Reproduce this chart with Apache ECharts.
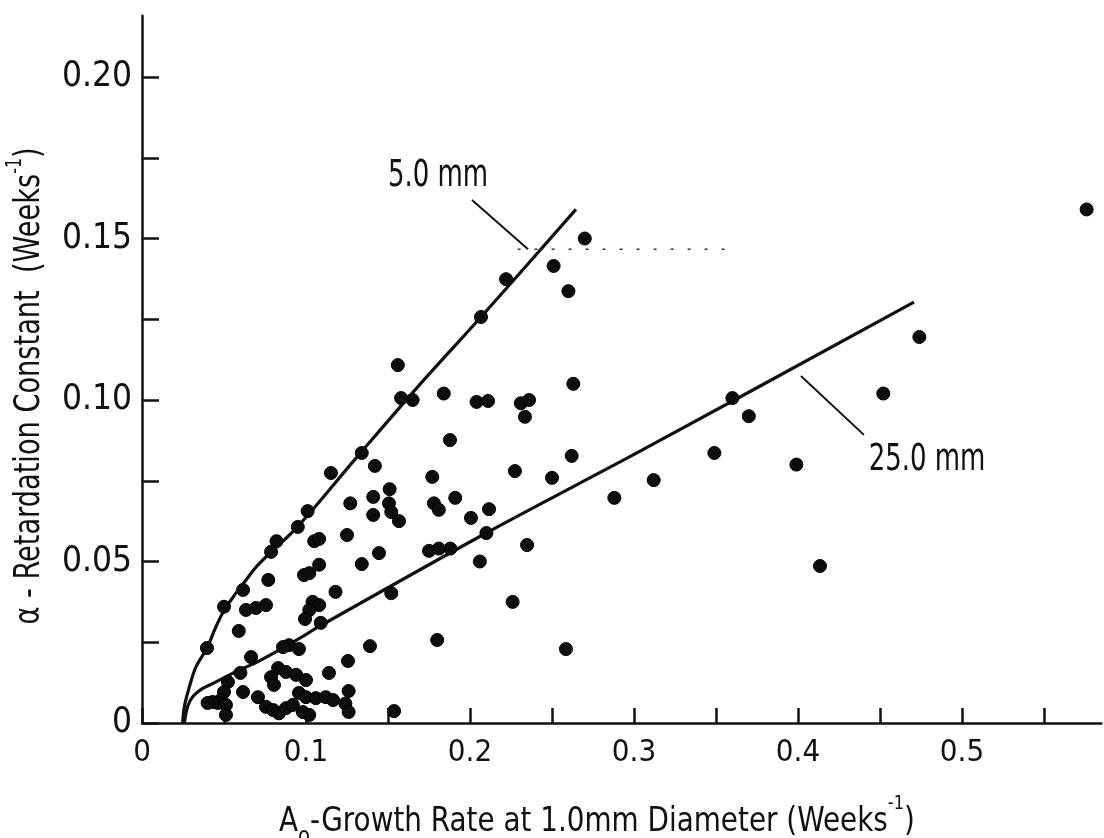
<!DOCTYPE html>
<html><head><meta charset="utf-8">
<script src="https://cdn.jsdelivr.net/npm/echarts@6/dist/echarts.min.js"></script>
<style>html,body{margin:0;padding:0;background:#fff}#c{width:1104px;height:838px}</style>
</head><body><div id="c"></div>
<script>
// A0 growth rate (x) and alpha retardation constant (y) for each tumour
const tumours = [
 [0.576,0.159],[0.474,0.1195],[0.360,0.1006],[0.370,0.095],[0.452,0.102],[0.349,0.0836],[0.399,0.080],[0.312,0.0752],[0.4134,0.0486],
 [0.270,0.150],[0.251,0.1415],[0.260,0.1337],[0.222,0.1374],[0.2067,0.1257],[0.156,0.1108],[0.263,0.105],[0.158,0.1006],[0.165,0.100],
 [0.184,0.102],[0.204,0.0994],[0.211,0.0997],[0.231,0.099],[0.236,0.100],[0.2335,0.0948],[0.134,0.0836],[0.1878,0.0876],[0.142,0.0796],
 [0.177,0.0762],[0.2274,0.078],[0.250,0.0759],[0.262,0.0827],[0.288,0.0697],[0.127,0.068],[0.141,0.070],[0.141,0.0644],[0.151,0.0724],
 [0.1506,0.068],[0.152,0.0653],[0.1567,0.0625],[0.178,0.068],[0.181,0.066],[0.191,0.0697],[0.2006,0.0635],[0.2116,0.0662],[0.210,0.0588],
 [0.125,0.0582],[0.1445,0.0526],[0.134,0.0492],[0.175,0.0533],[0.181,0.054],[0.188,0.054],[0.206,0.050],[0.2348,0.0551],[0.152,0.0402],
 [0.226,0.0375],[0.180,0.0257],[0.139,0.0238],[0.2585,0.0229],[0.1256,0.0192],[0.126,0.0099],[0.124,0.006],[0.126,0.0034],[0.1537,0.0037],
 [0.118,0.0406],[0.1152,0.0774],[0.101,0.0656],[0.095,0.0607],[0.105,0.0563],[0.108,0.057],[0.082,0.0563],[0.0787,0.053],[0.108,0.049],
 [0.077,0.0443],[0.0988,0.0458],[0.102,0.0464],[0.104,0.0375],[0.108,0.0365],[0.102,0.035],[0.0994,0.0322],[0.109,0.031],[0.0616,0.0412],
 [0.050,0.036],[0.0634,0.035],[0.0695,0.0356],[0.0756,0.0365],[0.059,0.0285],[0.0396,0.0232],[0.0665,0.0204],[0.0896,0.0241],[0.0957,0.0229],
 [0.086,0.0235],[0.060,0.0155],[0.114,0.0155],[0.083,0.017],[0.0878,0.0158],[0.094,0.0149],[0.100,0.0133],[0.0787,0.0142],[0.0805,0.0118],
 [0.0524,0.0127],[0.0616,0.0096],[0.050,0.0096],[0.048,0.0071],[0.0463,0.0062],[0.043,0.0065],[0.040,0.0062],[0.0512,0.0056],[0.0512,0.0025],
 [0.0707,0.008],[0.0756,0.005],[0.080,0.004],[0.0835,0.003],[0.0878,0.0046],[0.0957,0.0093],[0.100,0.008],[0.106,0.0077],[0.112,0.008],
 [0.1165,0.0071],[0.092,0.0056],[0.098,0.0034],[0.102,0.0025]
];
// 5.0 mm and 25.0 mm curves
const curve5mm = [[0.0248,0],[0.0258,0.005],[0.0289,0.0112],[0.0329,0.0174],[0.0396,0.0232],[0.0451,0.0298],[0.0502,0.035],[0.0573,0.0402],[0.0634,0.0443],[0.0716,0.0494],[0.0949,0.0608],[0.1305,0.082],[0.168,0.104],[0.2067,0.1257],[0.2646,0.159]];
const curve25mm = [[0.0258,0],[0.0278,0.005],[0.0309,0.0081],[0.037,0.0107],[0.043,0.0122],[0.0573,0.0159],[0.0695,0.0187],[0.0837,0.0226],[0.096,0.0262],[0.1091,0.0302],[0.2102,0.0589],[0.3043,0.0843],[0.4707,0.1303]];
// annotation leaders and labels
const leader5mm = [[0.2012,0.1619],[0.2354,0.1467]];
const leader25mm = [[0.4018,0.1074],[0.4402,0.0892]];
const dottedGuide = [[0.229,0.1467],[0.36,0.1467]];
const curveLabels = [{name:'5.0 mm', value:[0.1805,0.1693]},{name:'25.0 mm', value:[0.4787,0.0814]}];
// ticks & labels
const xTicks = [0,0.05,0.1,0.15,0.2,0.25,0.3,0.35,0.4,0.45,0.5,0.55];
const xLabels = [0,0.1,0.2,0.3,0.4,0.5];
const yTicks = [0,0.025,0.05,0.075,0.1,0.125,0.15,0.175,0.2];
const yLabels = [0,0.05,0.1,0.15,0.2];
const xTitle = 'Growth Rate at 1.0mm Diameter (Weeks';
const yTitle = 'α - Retardation Constant  (Weeks';

const FONT = "'Liberation Sans Narrow','DejaVu Sans Condensed','Liberation Sans',sans-serif";
const chart = echarts.init(document.getElementById('c'), null, {renderer:'canvas'});
const XMAX = 0.585, YMAX = 0.219;
const ink = '#111';
chart.setOption({
  backgroundColor:'#fff',
  animation:false,
  grid:{left:142, top:723-YMAX*3230, width:XMAX*1640, height:YMAX*3230},
  xAxis:{type:'value', min:0, max:XMAX,
    axisLine:{lineStyle:{color:ink,width:2.5}},
    axisTick:{inside:true,length:15,lineStyle:{color:ink,width:2.5},customValues:xTicks},
    axisLabel:{customValues:xLabels, margin:14, color:ink, fontSize:31, fontFamily:FONT,
      formatter:v=>v===0?'0':v.toFixed(1)},
    splitLine:{show:false}},
  yAxis:{type:'value', min:0, max:YMAX,
    axisLine:{lineStyle:{color:ink,width:2.5}},
    axisTick:{inside:true,length:17,lineStyle:{color:ink,width:2.5},customValues:yTicks},
    axisLabel:{customValues:yLabels, margin:10, color:ink, fontSize:35, fontFamily:FONT,
      formatter:v=>v===0?'0':v.toFixed(2)},
    splitLine:{show:false}},
  series:[
    {type:'line', data:curve5mm, smooth:0.35, showSymbol:false, lineStyle:{color:ink,width:3.2}, z:3},
    {type:'line', data:curve25mm, smooth:0.3, showSymbol:false, lineStyle:{color:ink,width:3.2}, z:3},
    {type:'line', data:leader5mm, showSymbol:false, lineStyle:{color:ink,width:2}, z:3},
    {type:'line', data:leader25mm, showSymbol:false, lineStyle:{color:ink,width:2}, z:3},
    {type:'line', data:dottedGuide, showSymbol:false, lineStyle:{color:'#333',width:1.5,type:[3,14]}, z:2},
    {type:'scatter', data:tumours, symbol:'circle', symbolSize:13,
      itemStyle:{color:'#0d0d0d', borderColor:'#000', borderWidth:1, opacity:1}, z:4}
  ]
});
// text: titles and curve labels (curve labels placed through the axes' own scales)
const labelEls = curveLabels.map((c,i)=>{
  const p = chart.convertToPixel({gridIndex:0}, c.value);
  return {type:'text', id:'cl'+i, x:p[0], y:p[1], scaleX:0.78, style:{text:c.name, align:'center', verticalAlign:'middle',
    font:"37px 'DejaVu Sans Condensed', sans-serif", fill:ink}, z:10};
});
chart.setOption({graphic:[
  {type:'text', id:'xt', x:597, y:822, scaleX:0.91, style:{
    text:'{a|A}{sub|o}{a|-'+xTitle+'}{sup|-1}{a|)}', align:'center', verticalAlign:'middle',
    rich:{a:{fontSize:34,fontFamily:FONT,fill:ink,lineHeight:40},
          sub:{fontSize:24,fontFamily:FONT,fill:ink,lineHeight:56,verticalAlign:'bottom'},
          sup:{fontSize:20,fontFamily:FONT,fill:ink,lineHeight:48,verticalAlign:'top'}}}},
  {type:'text', id:'yt', x:30, y:386, rotation:Math.PI/2, scaleX:0.84, style:{
    text:'{a|'+yTitle+'}{sup|-1}{a|)}', align:'center', verticalAlign:'middle',
    rich:{a:{fontSize:36,fontFamily:FONT,fill:ink,lineHeight:42},
          sup:{fontSize:21,fontFamily:FONT,fill:ink,lineHeight:50,verticalAlign:'top'}}}}
].concat(labelEls)});
</script></body></html>
